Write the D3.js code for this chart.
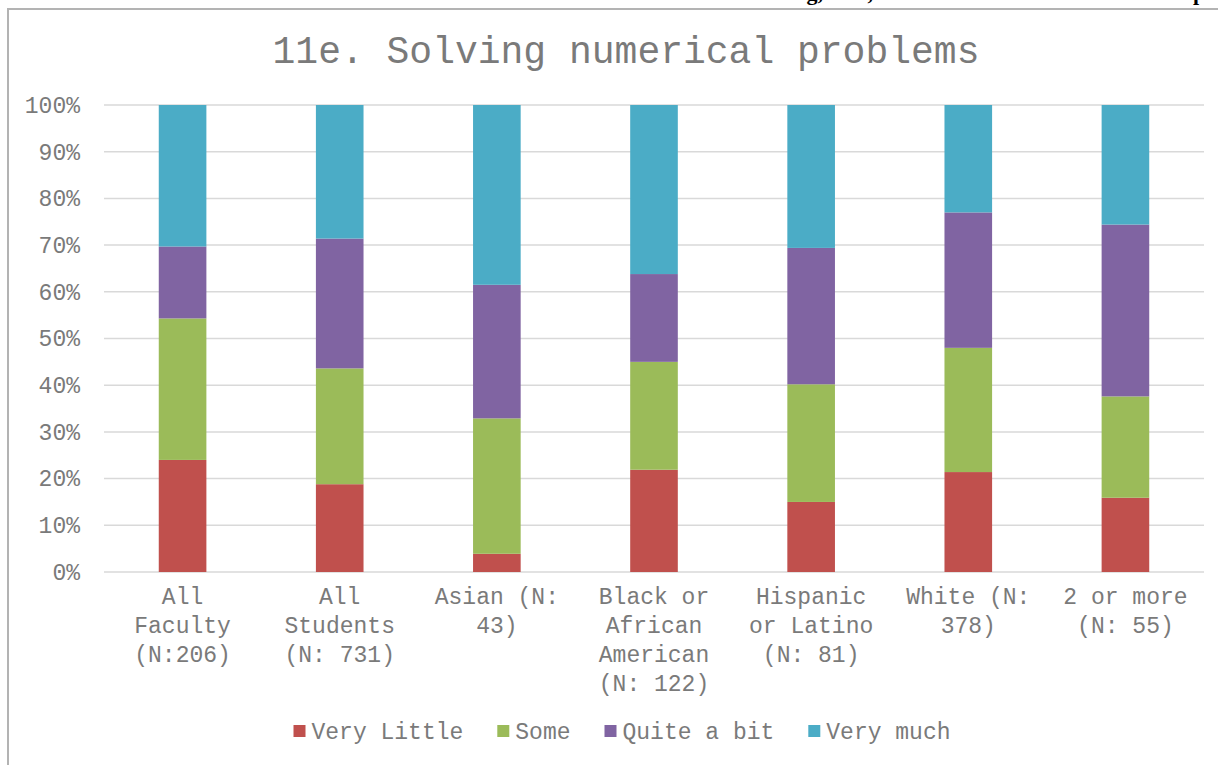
<!DOCTYPE html>
<html>
<head>
<meta charset="utf-8">
<script src="https://cdn.jsdelivr.net/npm/d3@7"></script>
<style>
  html, body { margin: 0; padding: 0; background: #fff; }
  svg { display: block; }
  .mono { font-family: "Courier New", "Nimbus Mono PS", "FreeMono", "Liberation Mono", monospace; }
</style>
</head>
<body>
<svg id="chart" width="1218" height="765"></svg>
<script>
// ---- data ----
const categories = [
  "All\nFaculty\n(N:206)",
  "All\nStudents\n(N: 731)",
  "Asian (N:\n43)",
  "Black or\nAfrican\nAmerican\n(N: 122)",
  "Hispanic\nor Latino\n(N: 81)",
  "White (N:\n378)",
  "2 or more\n(N: 55)"
];
const seriesNames = ["Very Little", "Some", "Quite a bit", "Very much"];
const veryLittle = [24.0, 18.8, 3.9, 21.9, 15.0, 21.4, 15.9];
const some       = [30.3, 24.8, 29.0, 23.1, 25.2, 26.6, 21.7];
const quiteABit  = [15.4, 27.8, 28.6, 18.8, 29.2, 29.0, 36.8];
const veryMuch   = [30.3, 28.6, 38.5, 36.2, 30.6, 23.0, 25.6];
const yTicks = [0, 10, 20, 30, 40, 50, 60, 70, 80, 90, 100];
const titleText = "11e. Solving numerical problems";
const colors = ["#C0504D", "#9BBB59", "#8064A2", "#4BACC6"];
const textColor = "#7a7a7a";

// ---- layout ----
const svg = d3.select("#chart");
const W = 1218, H = 765;
const plot = { left: 104, right: 1204, top: 105, bottom: 572 };

// partially visible heading above the frame (cut off by the page edge)
const headG = svg.append("g")
  .attr("font-weight", "bold").attr("font-size", 22).attr("fill", "#000")
  .style("font-family", "'Liberation Serif', 'Times New Roman', serif");
headG.append("text").attr("x", 823).attr("y", 0).attr("text-anchor", "end").text("Learning,");
headG.append("text").attr("x", 873).attr("y", 0).attr("text-anchor", "end").text("of,");
headG.append("text").attr("x", 1193).attr("y", 0).attr("text-anchor", "start").text("pro");

// chart frame
svg.append("path")
  .attr("d", `M8,${H} L8,9 L${W},9`)
  .attr("fill", "none").attr("stroke", "#b3b3b3").attr("stroke-width", 2);

// title
svg.append("text").attr("class", "mono")
  .attr("x", 626).attr("y", 50).attr("dy", "0.35em")
  .attr("text-anchor", "middle")
  .attr("font-size", 38).attr("fill", textColor)
  .text(titleText);

const x = d3.scaleBand()
  .domain(categories)
  .range([plot.left, plot.right])
  .paddingInner(2.3 / 3.3)
  .paddingOuter(2.3 / 3.3 / 2);

const y = d3.scaleLinear().domain([0, 100]).range([plot.bottom, plot.top]);

// gridlines
svg.append("g")
  .selectAll("line").data(yTicks).join("line")
  .attr("x1", plot.left).attr("x2", plot.right)
  .attr("y1", d => y(d)).attr("y2", d => y(d))
  .attr("stroke", "#d9d9d9").attr("stroke-width", 1.5);

// y axis labels
const yAxis = d3.axisLeft(y).tickValues(yTicks).tickFormat(d => d + "%").tickSize(0).tickPadding(0);
const yg = svg.append("g").attr("transform", `translate(${plot.left - 24},0)`).call(yAxis);
yg.select(".domain").remove();
yg.attr("font-family", null);
yg.selectAll("text").attr("class", "mono").attr("font-size", 23).attr("fill", textColor);

// stacked bars
const rows = categories.map((c, i) => ({
  cat: c,
  "Very Little": veryLittle[i],
  "Some": some[i],
  "Quite a bit": quiteABit[i],
  "Very much": veryMuch[i]
}));
const stack = d3.stack().keys(seriesNames).offset(d3.stackOffsetExpand);
const stacked = stack(rows);

svg.append("g").selectAll("g").data(stacked).join("g")
  .attr("fill", (d, i) => colors[i])
  .selectAll("rect").data(d => d).join("rect")
  .attr("x", d => x(d.data.cat))
  .attr("width", x.bandwidth())
  .attr("y", d => y(d[1] * 100))
  .attr("height", d => y(d[0] * 100) - y(d[1] * 100));

// x axis labels (wrapped)
const xAxis = d3.axisBottom(x).tickSize(0).tickPadding(0).tickFormat("");
const xg = svg.append("g").attr("transform", `translate(0,${plot.bottom})`).call(xAxis);
xg.select(".domain").remove();
xg.attr("font-family", null);
xg.selectAll(".tick").each(function(d) {
  const lines = d.split("\n");
  const t = d3.select(this).append("text").attr("class", "mono")
    .attr("text-anchor", "middle")
    .attr("font-size", 23).attr("fill", textColor);
  lines.forEach((ln, k) => {
    t.append("tspan").attr("x", 0).attr("y", 32 + k * 29).text(ln);
  });
});

// legend
const legendY = 731;
const fontSize = 23;
const charW = fontSize * 0.6;
const lg = svg.append("g");
const widths = seriesNames.map(s => 12 + 6 + s.length * charW);
const gap = 34;
const total = d3.sum(widths) + gap * (seriesNames.length - 1);
let cx = 622 - total / 2;
seriesNames.forEach((s, i) => {
  const g = lg.append("g").attr("transform", `translate(${cx},${legendY})`);
  g.append("rect").attr("x", 0).attr("y", -6).attr("width", 12).attr("height", 12).attr("fill", colors[i]);
  g.append("text").attr("class", "mono").attr("x", 18).attr("y", 0).attr("dy", "0.35em")
    .attr("font-size", fontSize).attr("fill", textColor).text(s);
  cx += widths[i] + gap;
});
</script>
</body>
</html>
